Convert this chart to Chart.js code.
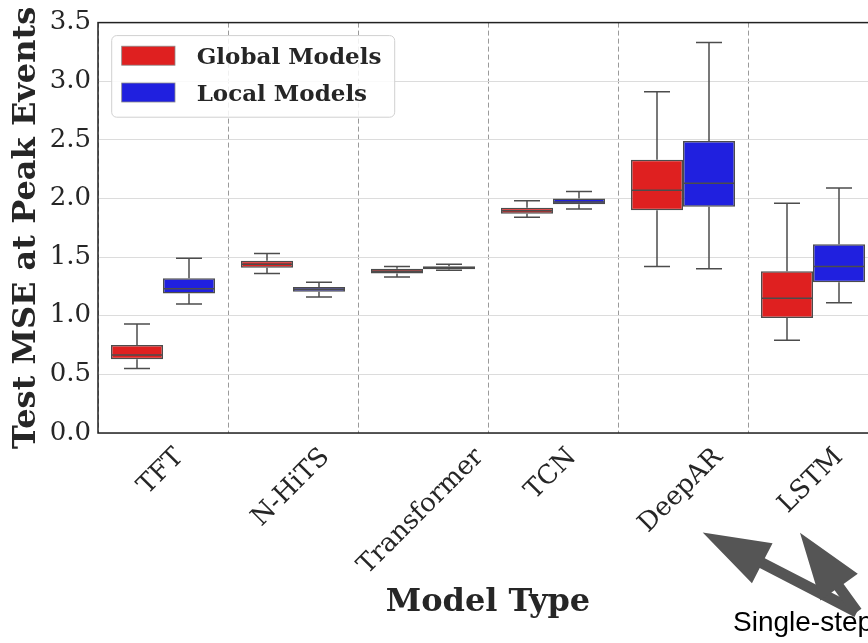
<!DOCTYPE html>
<html>
<head>
<meta charset="utf-8">
<script src="https://cdn.jsdelivr.net/npm/chart.js@4.4.0/dist/chart.umd.min.js"></script>
<style>
  html, body { margin: 0; padding: 0; overflow: hidden; background: #fff; }
  #wrap { width: 890px; height: 643px; }
</style>
</head>
<body>
<div id="wrap"><canvas id="chart"></canvas></div>
<script>
// Model types on the x axis
const categories = ['TFT', 'N-HiTS', 'Transformer', 'TCN', 'DeepAR', 'LSTM'];

// Global models: whisker low, Q1, median, Q3, whisker high
const globalMin = [0.55, 1.36, 1.33, 1.84, 1.42, 0.79];
const globalQ1  = [0.63, 1.41, 1.36, 1.87, 1.90, 0.98];
const globalMed = [0.665, 1.44, 1.38, 1.895, 2.07, 1.15];
const globalQ3  = [0.75, 1.47, 1.40, 1.92, 2.33, 1.38];
const globalMax = [0.93, 1.53, 1.42, 1.98, 2.91, 1.96];

// Local models
const localMin = [1.10, 1.16, 1.388, 1.91, 1.40, 1.11];
const localQ1  = [1.19, 1.205, 1.397, 1.95, 1.93, 1.285];
const localMed = [1.23, 1.225, 1.41, 1.97, 2.13, 1.42];
const localQ3  = [1.32, 1.245, 1.423, 2.00, 2.49, 1.61];
const localMax = [1.49, 1.285, 1.44, 2.06, 3.33, 2.09];

const yTicks = [0, 0.5, 1.0, 1.5, 2.0, 2.5, 3.0, 3.5];

const red = 'rgb(223,32,32)';
const blue = 'rgb(32,32,223)';
const lineGray = '#4c4c4c';
const textColor = '#262626';
const serif = '"DejaVu Serif", serif';

// whiskers, caps and medians on top of the floating bars
const boxExtras = {
  id: 'boxExtras',
  afterDatasetsDraw(chart) {
    const { ctx, scales: { y } } = chart;
    const stats = [
      [globalMin, globalQ1, globalMed, globalQ3, globalMax],
      [localMin, localQ1, localMed, localQ3, localMax],
    ];
    ctx.save();
    ctx.strokeStyle = lineGray;
    ctx.lineWidth = 1.5;
    chart.data.datasets.forEach((ds, di) => {
      const [mins, q1s, meds, q3s, maxs] = stats[di];
      chart.getDatasetMeta(di).data.forEach((bar, i) => {
        const half = bar.width / 2;
        const cap = half / 2;
        const pMin = y.getPixelForValue(mins[i]);
        const pQ1 = y.getPixelForValue(q1s[i]);
        const pMed = y.getPixelForValue(meds[i]);
        const pQ3 = y.getPixelForValue(q3s[i]);
        const pMax = y.getPixelForValue(maxs[i]);
        ctx.beginPath();
        ctx.moveTo(bar.x, pQ3); ctx.lineTo(bar.x, pMax);
        ctx.moveTo(bar.x - cap, pMax); ctx.lineTo(bar.x + cap, pMax);
        ctx.moveTo(bar.x, pQ1); ctx.lineTo(bar.x, pMin);
        ctx.moveTo(bar.x - cap, pMin); ctx.lineTo(bar.x + cap, pMin);
        ctx.moveTo(bar.x - half, pMed); ctx.lineTo(bar.x + half, pMed);
        ctx.stroke();
      });
    });
    ctx.restore();
  }
};

function drawArrow(ctx, tx, ty, fx, fy, headLen, headHalf, shaftHalf) {
  const ang = Math.atan2(fy - ty, fx - tx);
  const ux = Math.cos(ang), uy = Math.sin(ang);
  const px = -uy, py = ux;
  const bx = tx + ux * headLen, by = ty + uy * headLen;
  ctx.beginPath();
  ctx.moveTo(tx, ty);
  ctx.lineTo(bx + px * headHalf, by + py * headHalf);
  ctx.lineTo(bx + px * shaftHalf, by + py * shaftHalf);
  ctx.lineTo(fx + px * shaftHalf, fy + py * shaftHalf);
  ctx.lineTo(fx - px * shaftHalf, fy - py * shaftHalf);
  ctx.lineTo(bx - px * shaftHalf, by - py * shaftHalf);
  ctx.lineTo(bx - px * headHalf, by - py * headHalf);
  ctx.closePath();
  ctx.fill();
}

// frame, rotated category labels, legend box and the annotation arrows
const decorations = {
  id: 'decorations',
  afterDraw(chart) {
    const { ctx, chartArea: area, scales: { x } } = chart;
    ctx.save();

    // frame
    ctx.strokeStyle = '#222';
    ctx.lineWidth = 1.5;
    ctx.strokeRect(area.left, area.top, area.right - area.left, area.bottom - area.top);

    // category labels at 45 degrees, centred under each tick
    ctx.fillStyle = textColor;
    ctx.font = '26px ' + serif;
    ctx.textAlign = 'center';
    ctx.textBaseline = 'middle';
    categories.forEach((label, i) => {
      const px = x.getPixelForValue(i);
      const w = ctx.measureText(label).width;
      const side = (w + 23) * Math.SQRT1_2;
      ctx.save();
      ctx.translate(px - 2, area.bottom + 12 + side / 2);
      ctx.rotate(-Math.PI / 4);
      ctx.fillText(label, 0, 0);
      ctx.restore();
    });

    // legend
    const lx = area.left + 13.7, ly = area.top + 13;
    ctx.fillStyle = 'rgba(255,255,255,0.85)';
    ctx.strokeStyle = '#d0d0d0';
    ctx.lineWidth = 1;
    ctx.beginPath();
    ctx.roundRect(lx, ly, 283, 81.6, 5);
    ctx.fill();
    ctx.stroke();
    const entries = [['Global Models', red], ['Local Models', blue]];
    ctx.font = 'bold 23px ' + serif;
    ctx.textAlign = 'left';
    ctx.textBaseline = 'alphabetic';
    entries.forEach(([name, color], k) => {
      const ty = ly + 10.6 + k * 36.8;
      ctx.fillStyle = color;
      ctx.fillRect(lx + 10, ty, 53.3, 19);
      ctx.strokeStyle = '#8a8a8a';
      ctx.lineWidth = 0.8;
      ctx.strokeRect(lx + 10, ty, 53.3, 19);
      ctx.fillStyle = textColor;
      ctx.fillText(name, lx + 85, ty + 18);
    });

    // annotation: arrows from the note to DeepAR and LSTM
    const tailX = x.getPixelForValue(5) + 44, tailY = area.bottom + 179;
    ctx.fillStyle = '#555555';
    drawArrow(ctx, x.getPixelForValue(4) + 19.7, area.bottom + 99.5, tailX, tailY, 67, 22.5, 5.5);
    drawArrow(ctx, x.getPixelForValue(5) - 13, area.bottom + 99.7, tailX, tailY, 67, 23, 5.5);
    ctx.fillStyle = '#000';
    ctx.font = '28px "Liberation Sans", Arial, sans-serif';
    ctx.fillText('Single-step', x.getPixelForValue(5) - 80, area.bottom + 198);

    ctx.restore();
  }
};

const chart = new Chart(document.getElementById('chart'), {
  type: 'bar',
  data: {
    labels: categories,
    datasets: [
      {
        label: 'Global Models',
        data: globalQ1.map((q, i) => [q, globalQ3[i]]),
        backgroundColor: red,
        borderColor: lineGray,
        borderWidth: 1.5,
        borderSkipped: false,
        categoryPercentage: 0.8,
        barPercentage: 1.0,
      },
      {
        label: 'Local Models',
        data: localQ1.map((q, i) => [q, localQ3[i]]),
        backgroundColor: blue,
        borderColor: lineGray,
        borderWidth: 1.5,
        borderSkipped: false,
        categoryPercentage: 0.8,
        barPercentage: 1.0,
      },
    ],
  },
  options: {
    responsive: true,
    maintainAspectRatio: false,
    animation: false,
    layout: { padding: { top: 20, right: 12, bottom: 0, left: 0 } },
    plugins: {
      legend: { display: false },
      tooltip: { enabled: false },
    },
    scales: {
      x: {
        offset: true,
        grid: { offset: true, color: '#9a9a9a', lineWidth: 1, drawTicks: false },
        border: { display: false, dash: [5, 3] },
        ticks: { display: false },
        title: {
          display: true,
          text: 'Model Type',
          color: textColor,
          font: { family: serif, size: 32, weight: 'bold' },
          padding: { top: 0, bottom: 21 },
        },
        afterFit(scale) { scale.height = 210; },
      },
      y: {
        min: 0,
        max: 3.5,
        afterBuildTicks(scale) { scale.ticks = yTicks.map(v => ({ value: v })); },
        ticks: {
          padding: 7,
          color: textColor,
          font: { family: serif, size: 26 },
          callback: v => Number(v).toFixed(1),
        },
        grid: { color: '#dcdcdc', lineWidth: 1, drawTicks: false },
        border: { display: false },
        title: {
          display: true,
          text: 'Test MSE at Peak Events',
          color: textColor,
          font: { family: serif, size: 32, weight: 'bold' },
          padding: { top: 7, bottom: 0 },
        },
        afterFit(scale) { scale.width = 98; },
      },
    },
  },
  plugins: [boxExtras, decorations],
});
</script>
</body>
</html>
